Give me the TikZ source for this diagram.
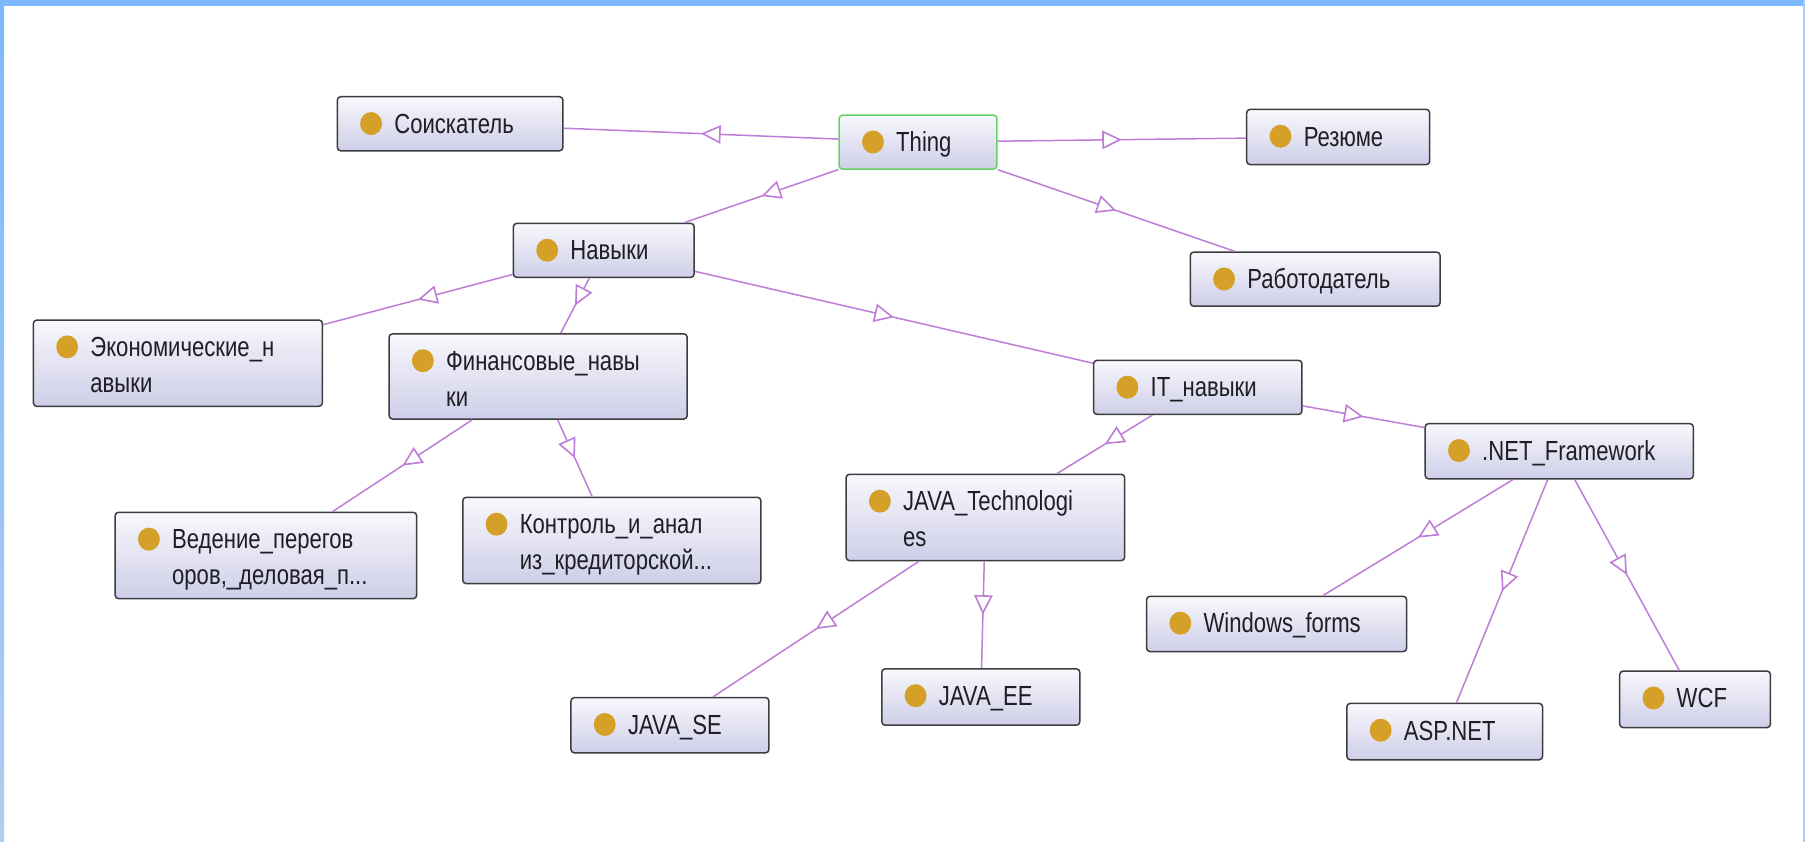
\documentclass[tikz,border=0pt]{standalone}
\usepackage{fontspec}
\setmainfont{Liberation Sans}[FakeStretch=0.8]
\usetikzlibrary{fit,calc,decorations.markings,arrows.meta}
\definecolor{edgec}{RGB}{190,125,215}
\definecolor{dotc}{RGB}{212,160,40}
\definecolor{boxtop}{RGB}{248,248,253}
\definecolor{boxbot}{RGB}{206,206,232}
\definecolor{boxdraw}{RGB}{60,60,64}
\definecolor{thingc}{RGB}{100,210,100}
\definecolor{framec}{RGB}{125,185,255}
\definecolor{framebot}{RGB}{175,205,240}
\definecolor{txtc}{RGB}{30,30,36}
\tikzset{
  clsbox/.style={draw=boxdraw, line width=1.3pt, rounded corners=3pt, top color=boxtop, bottom color=boxbot, inner sep=0pt, outer sep=0.65pt},
  thingbox/.style={clsbox, draw=thingc},
  lbl/.style={font=\fontsize{24}{28}\selectfont, text=txtc, inner sep=0pt, anchor=base west},
  dotmark/.style={fill=dotc},
  isa/.style={draw=edgec, line width=1.3pt, postaction={decorate}, decoration={markings, mark=at position 0.5 with {\arrow{Triangle[open, length=17pt, width=16pt, fill=white, line width=1.4pt]}}}}
}
\newcommand\onto[8]{%
  \node[#1, fit={(#3,#4) (#5,#6)}] (#2) {};
  \fill[dotmark] ($(#2.north west)+(30,24)$) circle [x radius=9.5pt, y radius=10pt];
  \node[lbl] (#2-a) at ($(#2.north west)+(50,32.5)$) {#7};
  \node[lbl] (#2-b) at ($(#2.north west)+(50,63.5)$) {#8};
}
\begin{document}
\begin{tikzpicture}[x=1pt,y=-1pt]
\useasboundingbox (0,0) rectangle (1568,731);
\fill[white] (0,0) rectangle (1568,731);
\fill[framec] (0,0) rectangle (1568,5.5);
\shade[top color=framec, bottom color=framebot] (0,0) rectangle (3.5,731);
\fill[framec!70] (1566.5,0) rectangle (1568,731);

\onto{clsbox}{soisk}{293}{84}{489}{131}{Соискатель}{}
\onto{thingbox}{thing}{729}{100}{866}{147}{Thing}{}
\onto{clsbox}{rezume}{1083}{95}{1242}{143}{Резюме}{}
\onto{clsbox}{navyki}{446}{194}{603}{241}{Навыки}{}
\onto{clsbox}{rabot}{1034}{219}{1251}{266}{Работодатель}{}
\onto{clsbox}{econ}{29}{278}{280}{353}{Экономические\_н}{авыки}
\onto{clsbox}{fin}{338}{290}{597}{364}{Финансовые\_навы}{ки}
\onto{clsbox}{it}{950}{313}{1131}{360}{IT\_навыки}{}
\onto{clsbox}{net}{1238}{368}{1471}{416}{.NET\_Framework}{}
\onto{clsbox}{javat}{735}{412}{977}{487}{JAVA\_Technologi}{es}
\onto{clsbox}{ved}{100}{445}{362}{520}{Ведение\_перегов}{оров,\_деловая\_п...}
\onto{clsbox}{kontr}{402}{432}{661}{507}{Контроль\_и\_анал}{из\_кредиторской...}
\onto{clsbox}{winf}{996}{518}{1222}{566}{Windows\_forms}{}
\onto{clsbox}{jse}{496}{606}{668}{654}{JAVA\_SE}{}
\onto{clsbox}{jee}{766}{581}{938}{630}{JAVA\_EE}{}
\onto{clsbox}{asp}{1170}{611}{1340}{660}{ASP.NET}{}
\onto{clsbox}{wcf}{1407}{583}{1538}{632}{WCF}{}

\draw[isa] (thing) -- (soisk);
\draw[isa] (thing) -- (rezume);
\draw[isa] (thing) -- (navyki);
\draw[isa] (thing) -- (rabot);
\draw[isa] (navyki) -- (econ);
\draw[isa] (navyki) -- (fin);
\draw[isa] (navyki) -- (it);
\draw[isa] (fin) -- (ved);
\draw[isa] (fin) -- (kontr);
\draw[isa] (it) -- (javat);
\draw[isa] (it) -- (net);
\draw[isa] (javat) -- (jse);
\draw[isa] (javat) -- (jee);
\draw[isa] (net) -- (winf);
\draw[isa] (net) -- (asp);
\draw[isa] (net) -- (wcf);
\end{tikzpicture}
\end{document}
